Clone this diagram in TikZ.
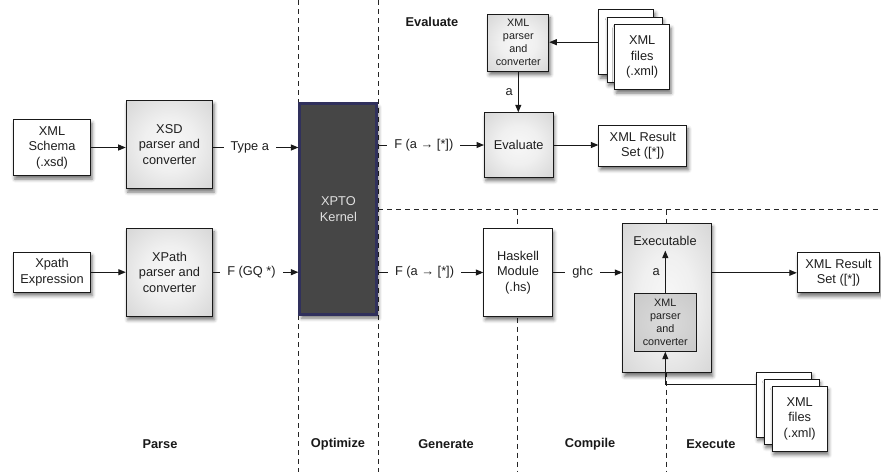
\documentclass[tikz,border=0pt]{standalone}
\usepackage{fontspec}
\setmainfont{Liberation Sans}
\usetikzlibrary{arrows.meta,shadows.blur}
\definecolor{kfill}{HTML}{464646}
\definecolor{kborder}{HTML}{30305C}
\pgfdeclareradialshading{boxshade}{\pgfpoint{0bp}{0bp}}{color(0bp)=(black!3); color(15bp)=(black!6); color(40bp)=(black!18); color(71bp)=(black!30)}
\pgfdeclareradialshading{innershade}{\pgfpoint{0bp}{0bp}}{color(0bp)=(black!14); color(40bp)=(black!22); color(71bp)=(black!32)}
\begin{document}
\begin{tikzpicture}[x=1pt,y=-1pt]
\tikzset{
 base/.style={draw=black!90, line width=0.9pt, inner sep=0pt, align=center,
   font=\fontsize{12.8}{15.5}\selectfont, text=black!88,
   blur shadow={shadow xshift=1.5pt, shadow yshift=-3.5pt, shadow blur radius=3.5pt, shadow opacity=55}},
 wbox/.style={base, fill=white},
 gbox/.style={base, shading=boxshade},
 small/.style={font=\fontsize{10.8}{13}\selectfont},
 txt/.style={inner sep=0pt, align=center, font=\fontsize{12.8}{15.5}\selectfont, text=black!88},
 arr/.style={draw=black!90, line width=1pt, -{Triangle[length=7.5pt,width=6pt]}},
 lab/.style={fill=white, inner xsep=7pt, inner ysep=2pt, font=\fontsize{12.8}{15.5}\selectfont, text=black!88},
 phase/.style={inner sep=0pt, font=\bfseries\fontsize{12.8}{15}\selectfont, text=black!90},
 sep/.style={draw=black!85, line width=0.9pt, dash pattern=on 5pt off 4pt},
 page/.style={wbox, minimum width=55pt, minimum height=65pt},
}
\useasboundingbox (0,0) rectangle (881,472);
% separators
\coordinate (s1t) at (298.5,0); \coordinate (s1b) at (298.5,472);
\coordinate (s2t) at (378,0); \coordinate (s2b) at (378,472);
\coordinate (hl) at (378,209.5); \coordinate (hr) at (881,209.5);
\coordinate (s3t) at (517,209.5); \coordinate (s3b) at (517,472);
\coordinate (s4t) at (666,209.5); \coordinate (s4b) at (666,472);
\draw[sep] (s1t) -- (s1b);
\draw[sep] (s2t) -- (s2b);
\draw[sep] (hl) -- (hr);
\draw[sep] (s3t) -- (s3b);
\draw[sep] (s4t) -- (s4b);

% parse
\node[wbox, minimum width=77pt, minimum height=56pt] (schema) at (52,147.5) {XML\\Schema\\(.xsd)};
\node[gbox, minimum width=86.5pt, minimum height=88pt] (xsd) at (169.4,144.5) {XSD\\parser and\\converter};
\node[wbox, minimum width=77pt, minimum height=40pt] (xpe) at (52,272.2) {Xpath\\Expression};
\node[gbox, minimum width=86.5pt, minimum height=88pt] (xpc) at (169.5,272.3) {XPath\\parser and\\converter};

% kernel
\node[base, fill=kfill, draw=kborder, line width=3pt, text=black!12, minimum width=77pt, minimum height=211pt] (kernel) at (338.4,209.2) {XPTO\\Kernel};

% evaluate
\node[gbox, small, minimum width=61pt, minimum height=57pt] (ptop) at (518.3,42.8) {XML\\parser\\and\\converter};
\node[gbox, minimum width=68.5pt, minimum height=64.5pt] (eval) at (518.7,145) {Evaluate};
\node[page] (ft3) at (626.3,42.2) {};
\node[page] (ft2) at (634.5,49.6) {};
\node[page] (ft1) at (642.2,57) {XML\\files\\(.xml)};
\node[wbox, minimum width=88pt, minimum height=41pt] (rt) at (642.8,145.8) {XML Result\\Set ([*])};

% generate / compile / execute
\node[wbox, minimum width=68.5pt, minimum height=87.5pt] (hs) at (518,272.5) {Haskell\\Module\\(.hs)};
\node[gbox, minimum width=88.5pt, minimum height=149.5pt] (exec) at (667,298) {};
\node[txt, inner ysep=5pt] (etitle) at (665,240.7) {Executable};
\node[draw=black!90, line width=0.9pt, inner sep=0pt, align=center, text=black!88, shading=innershade, small, minimum width=62pt, minimum height=57.5pt] (inner) at (665.3,322.5) {XML\\parser\\and\\converter};
\node[wbox, minimum width=82.5pt, minimum height=40pt] (rb) at (838.5,272.8) {XML Result\\Set ([*])};
\node[page] (fb3) at (783.9,404.5) {};
\node[page] (fb2) at (791.7,411.8) {};
\node[page] (fb1) at (799.7,418.8) {XML\\files\\(.xml)};

% connectors
\draw[arr] (schema.east) -- (schema.east -| xsd.west);
\draw[arr] (xsd.east |- schema.east) -- node[lab, pos=0.43] {Type a} (schema.east -| kernel.west);
\draw[arr] (xpe.east) -- (xpe.east -| xpc.west);
\draw[arr] (xpc.east |- xpe.east) -- node[lab, pos=0.45] {F (GQ *)} (xpe.east -| kernel.west);
\draw[arr] (kernel.east |- eval.west) -- node[lab, pos=0.43] {F (a → [*])} (eval.west);
\draw[arr] (kernel.east |- hs.west) -- node[lab, pos=0.44] {F (a → [*])} (hs.west);
\draw[arr] (ft3.west) -- (ft3.west -| ptop.east);
\draw[arr] (ptop.south) -- node[txt, left=5pt, pos=0.5] {a} (ptop.south |- eval.north);
\draw[arr] (eval.east) -- (eval.east -| rt.west);
\draw[arr] (hs.east) -- node[lab, pos=0.43] {ghc} (hs.east -| exec.west);
\draw[arr] (exec.east |- rb.west) -- (rb.west);
\draw[arr] (inner.north) -- node[txt, left=5pt, pos=0.5] {a} (inner.north |- etitle.south);
\draw[arr] ([yshift=-12.5pt]fb3.north west) -| (inner.south);

% phase labels
\node[phase] (ph0) at (432,22) {Evaluate};
\node[phase] (ph1) at (160,444) {Parse};
\node[phase] (ph2) at (338,444) {Optimize};
\node[phase] (ph3) at (446,444) {Generate};
\node[phase] (ph4) at (590,444) {Compile};
\node[phase] (ph5) at (711,444) {Execute};
\end{tikzpicture}
\end{document}
